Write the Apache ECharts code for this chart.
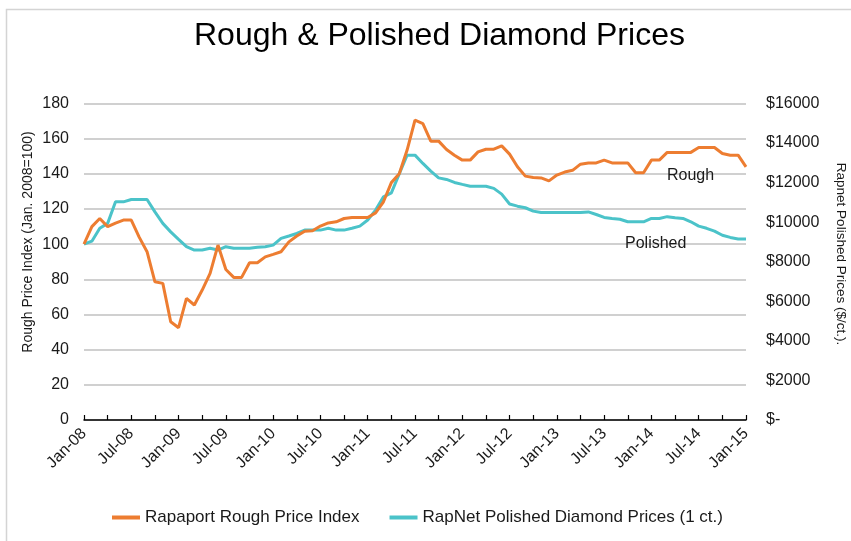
<!DOCTYPE html>
<html>
<head>
<meta charset="utf-8">
<script src="https://cdn.jsdelivr.net/npm/echarts@6/dist/echarts.min.js"></script>
<style>
html,body{margin:0;padding:0;background:#fff;}
#chart{width:851px;height:541px;}
</style>
</head>
<body>
<div id="chart"></div>
<script>
// ---- Data ----
const monthNames = ['Jan','Feb','Mar','Apr','May','Jun','Jul','Aug','Sep','Oct','Nov','Dec'];
const startYear = 2008, endYear = 2015;
const categories = [];
for (let y = startYear; y <= endYear; y++) {
  for (let m = 0; m < 12; m++) {
    if (y === endYear && m > 0) break;
    categories.push(monthNames[m] + '-' + String(y).slice(2));
  }
}

// Rapaport Rough Price Index (Jan. 2008 = 100), monthly Jan-08 .. Jan-15
const roughIndex = [
  100, 110, 114.6, 110, 112, 113.7, 113.7, 104, 95.7, 78.6, 77.7, 55.9,
  52.5, 69.2, 65.4, 73.9, 83.4, 99.5, 85.6, 81.1, 81.1, 89.4, 89.4, 92.8,
  94.2, 95.7, 101.3, 104.6, 107.4, 107.6, 110.3, 112.1, 112.7, 114.6, 115.2, 115.2,
  115.2, 117.8, 124.1, 135, 140, 153.5, 170.5, 168.6, 158.6, 158.6, 153.8, 150.6,
  147.8, 147.8, 152.5, 154, 154, 155.9, 151.2, 144, 138.7, 137.9, 137.7, 136,
  139.3, 141, 142, 145.5, 146.2, 146.2, 147.8, 146.2, 146.2, 146.2, 140.6, 140.6,
  147.8, 147.8, 152.2, 152.2, 152.2, 152.2, 155, 155, 155, 151.6, 150.6, 150.6,
  144
];

// RapNet Polished Diamond Prices (1 ct.), $/ct, monthly Jan-08 .. Jan-15
const polishedPrice = [
  8890, 9040, 9690, 9940, 11030, 11030, 11150, 11150, 11150, 10520, 9940, 9510,
  9130, 8760, 8590, 8590, 8680, 8590, 8760, 8680, 8680, 8680, 8730, 8760,
  8840, 9180, 9300, 9430, 9600, 9600, 9600, 9690, 9600, 9600, 9690, 9800,
  10110, 10610, 11280, 11480, 12440, 13390, 13390, 12970, 12580, 12240, 12160, 12010,
  11910, 11820, 11820, 11820, 11710, 11420, 10920, 10810, 10730, 10560, 10490, 10490,
  10490, 10490, 10490, 10490, 10520, 10390, 10240, 10190, 10150, 10020, 10020, 10020,
  10190, 10190, 10280, 10220, 10190, 10020, 9800, 9690, 9550, 9340, 9230, 9150,
  9150
];

const seriesNames = ['Rapaport Rough Price Index', 'RapNet Polished Diamond Prices (1 ct.)'];
const leftAxisName = 'Rough Price Index (Jan. 2008=100)';
const rightAxisName = 'Rapnet Polished Prices ($/ct.).';
const leftTicks = { min: 0, max: 180, interval: 20 };
const rightTicks = { min: 0, max: 16000, interval: 2000 };

// ---- Chart ----
const FONT = '"Liberation Sans", Arial, sans-serif';
const TXT = '#1a1a1a';
const chart = echarts.init(document.getElementById('chart'), null, { renderer: 'canvas' });

chart.setOption({
  backgroundColor: '#ffffff',
  animation: false,
  textStyle: { fontFamily: FONT },
  title: {
    text: 'Rough & Polished Diamond Prices',
    left: 189,
    top: 15,
    textStyle: { fontFamily: FONT, fontSize: 32, fontWeight: 'normal', color: '#000' }
  },
  graphic: [
    { type: 'rect', silent: true, z: -1, shape: { x: 6.5, y: 9.5, width: 1000, height: 1000 },
      style: { fill: 'none', stroke: '#d4d4d4', lineWidth: 1.5 } },
    { type: 'text', x: 28, y: 242, rotation: Math.PI / 2, silent: true, z: 100,
      style: { text: leftAxisName, font: '14px ' + FONT, fill: TXT, align: 'center', verticalAlign: 'middle' } },
    { type: 'text', x: 841, y: 254, rotation: -Math.PI / 2, silent: true, z: 100,
      style: { text: rightAxisName, font: '13.5px ' + FONT, fill: TXT, align: 'center', verticalAlign: 'middle' } },
    { type: 'text', left: 667, top: 168, silent: true, z: 100,
      style: { text: 'Rough', font: '16px ' + FONT, fill: TXT } },
    { type: 'text', left: 625, top: 236, silent: true, z: 100,
      style: { text: 'Polished', font: '16px ' + FONT, fill: TXT } }
  ],
  legend: {
    bottom: 10,
    left: 107,
    itemGap: 30,
    itemWidth: 28,
    itemHeight: 4,
    icon: 'rect',
    textStyle: { fontFamily: FONT, fontSize: 17, color: TXT },
    data: seriesNames
  },
  grid: { left: 84, right: 105, top: 103.5, bottom: 121, containLabel: false },
  xAxis: {
    type: 'category',
    data: categories,
    boundaryGap: false,
    axisLine: { show: true, lineStyle: { color: '#000', width: 1.5 } },
    axisTick: { show: true, inside: true, length: 5, interval: 2, lineStyle: { color: '#000', width: 1.2 } },
    axisLabel: { interval: 5, rotate: 45, margin: 11, fontSize: 16, color: TXT, fontFamily: FONT },
    splitLine: { show: false }
  },
  yAxis: [
    {
      type: 'value',
      min: leftTicks.min, max: leftTicks.max, interval: leftTicks.interval,
      axisLine: { show: false },
      axisTick: { show: false },
      axisLabel: { margin: 15, fontSize: 16, color: TXT, fontFamily: FONT },
      splitLine: { show: true, lineStyle: { color: '#d0d0d0', width: 2 } }
    },
    {
      type: 'value',
      position: 'right',
      min: rightTicks.min, max: rightTicks.max, interval: rightTicks.interval,
      axisLine: { show: false },
      axisTick: { show: false },
      axisLabel: {
        margin: 20, fontSize: 16, color: TXT, fontFamily: FONT,
        formatter: v => v === 0 ? '$-' : '$' + v
      },
      splitLine: { show: false }
    }
  ],
  series: [
    {
      name: seriesNames[0],
      type: 'line',
      yAxisIndex: 0,
      data: roughIndex,
      showSymbol: false,
      symbol: 'none',
      lineStyle: { color: '#ED7D31', width: 3 },
      itemStyle: { color: '#ED7D31' },
      z: 3
    },
    {
      name: seriesNames[1],
      type: 'line',
      yAxisIndex: 1,
      data: polishedPrice,
      showSymbol: false,
      symbol: 'none',
      lineStyle: { color: '#4BC3C9', width: 3 },
      itemStyle: { color: '#4BC3C9' },
      z: 2
    }
  ]
});
</script>
</body>
</html>
